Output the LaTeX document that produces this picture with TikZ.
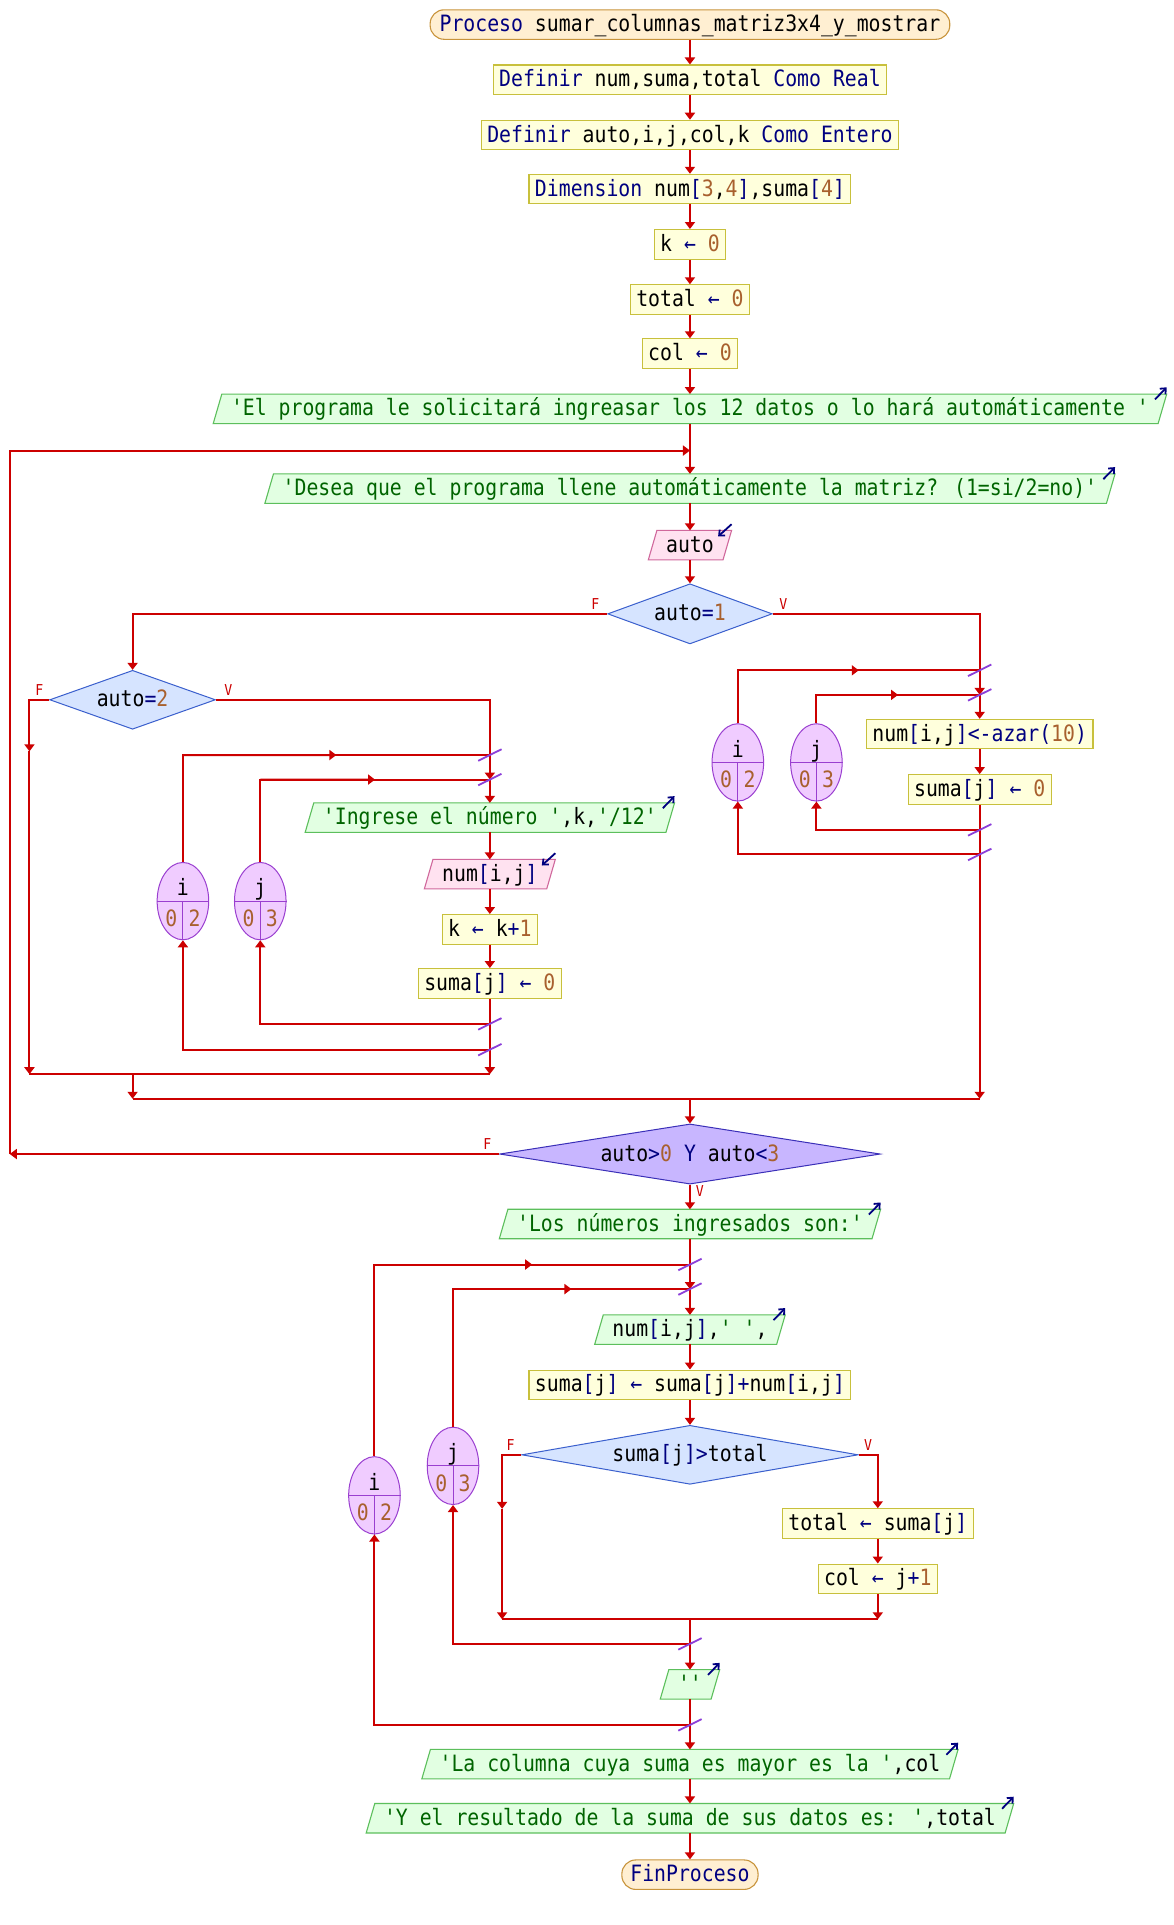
\documentclass[tikz,border=0pt]{standalone}
\usepackage{fontspec}
\usepackage{graphicx}
\newfontfamily\pse[FakeStretch=0.88,Ligatures=TeXOff]{DejaVu Sans Mono}
\usetikzlibrary{shapes.geometric,arrows.meta,calc}
\pgfdeclarelayer{paper}
\pgfdeclarelayer{bg}
\pgfsetlayers{paper,bg,main}

\definecolor{wire}{HTML}{CC0000}
\definecolor{cut}{HTML}{8B3FD9}
\definecolor{kwc}{HTML}{000080}
\definecolor{numc}{HTML}{A8602E}
\definecolor{strc}{HTML}{006400}
\definecolor{procf}{HTML}{FFEFD2}
\definecolor{procd}{HTML}{C8943C}
\definecolor{asgf}{HTML}{FFFFDC}
\definecolor{asgd}{HTML}{C8C03C}
\definecolor{outf}{HTML}{E2FFE2}
\definecolor{outd}{HTML}{5CBF5C}
\definecolor{inf}{HTML}{FFE2F0}
\definecolor{ind}{HTML}{D0689C}
\definecolor{decf}{HTML}{D6E4FF}
\definecolor{decd}{HTML}{3A5FCD}
\definecolor{whf}{HTML}{C8B6FF}
\definecolor{whd}{HTML}{3A2FB8}
\definecolor{ellf}{HTML}{F0CCFF}
\definecolor{elld}{HTML}{9A3FD0}
\definecolor{marknavy}{HTML}{000080}

% syntax colouring
\newcommand\kwd[1]{\textcolor{kwc}{#1}}
\newcommand\nmb[1]{\textcolor{numc}{#1}}
\newcommand\strg[1]{\textcolor{strc}{#1}}
\newcommand\asn{\kwd{\makebox[\fontcharwd\font`a][c]{←}}}

\tikzset{
  pse/.style={font=\pse\fontsize{22.5}{27}\selectfont, text height=18pt, text depth=4pt,
              inner ysep=0pt, minimum height=29.5pt},
  asgbox/.style={pse, rectangle, draw=asgd, fill=asgf, line width=1.1pt, inner xsep=6pt},
  procbox/.style={pse, rectangle, rounded corners=14pt, draw=procd, fill=procf,
                  line width=1.1pt, inner xsep=9.5pt},
  iobox/.style={pse, rectangle, inner xsep=13.5pt, outer sep=0pt},
  decbox/.style={pse, diamond, draw=decd, fill=decf, line width=1pt, inner sep=0pt},
  whbox/.style={decbox, draw=whd, fill=whf},
  conn/.style={draw=wire, line width=2pt},
  arr/.style={conn, -{Triangle[length=7pt,width=10pt]}},
  cutmark/.style={draw=cut, line width=1.8pt},
  tag/.style={text=wire, font=\pse\fontsize{15}{16}\selectfont, inner sep=0pt},
  ellnode/.style={ellipse, draw=elld, fill=ellf, line width=1pt,
                  minimum width=42*1.2277pt, minimum height=63*1.2277pt, inner sep=0pt},
  elltxt/.style={font=\pse\fontsize{22.5}{27}\selectfont, inner sep=0pt, anchor=base},
  iomark/.style={draw=marknavy, line width=1.8pt, -{Straight Barb[length=4.5pt,width=8pt]}},
}

% parallelogram behind an input/output node
\newcommand\paral[3]{%
  \begin{pgfonlayer}{bg}
    \path[fill=#2,draw=#3,line width=1.1pt]
      ($(#1.south west)+(-3.5,0)$) -- ($(#1.south east)+(-3.5,0)$) --
      ($(#1.north east)+(3.5,0)$) -- ($(#1.north west)+(3.5,0)$) -- cycle;
  \end{pgfonlayer}}
\newcommand\outmark[1]{\draw[iomark] ($(#1.north east)+(-6,4.3)$) -- ($(#1.north east)+(3.5,-5.5)$);}
\newcommand\inmark[1]{\draw[iomark] ($(#1.north east)+(3.5,-5)$) -- ($(#1.north east)+(-7.5,5)$);}
\newcommand\outnode[3]{\node[iobox] (#1) at (#2) {#3}; \paral{#1}{outf}{outd}\outmark{#1}}
\newcommand\innode[3]{\node[iobox] (#1) at (#2) {#3}; \paral{#1}{inf}{ind}\inmark{#1}}
% decision diamond: style, name, x, y, width, height, aspect (the node text follows)
\newcommand\decnode[7]{%
  \node[#1, aspect=#7, minimum width=#5*1.2277pt, minimum height=#6*1.2277pt] (#2) at (#3,#4)}
% loop counter ellipse: name, x, y, variable, from, to
\newcommand\loopvar[6]{%
  \node[ellnode] (#1) at (#2,#3) {};
  \draw[elld, line width=1pt] (#1.west) -- (#1.east) (#1.center) -- (#1.south);
  \node[elltxt] at (#2,#3-4.3) {#4};
  \node[elltxt] at (#2-9.5,#3+20.6) {\nmb{#5}};
  \node[elltxt] at (#2+9.5,#3+20.6) {\nmb{#6}};}
\newcommand\looptop[2]{%
  \coordinate (#1top) at (#1.north |- #2);
  \draw[conn] (#1.north) -- (#1top) -- (#2);
  \draw[arr] (#1top) -- ($(#1top)!0.5!(#2)$);}
\newcommand\loopret[2]{\draw[arr] (#1) -| (#2.south);}
\newcommand\cutat[1]{\draw[cutmark] ($(#1)+(-9.5,4.7)$) -- ($(#1)+(9.5,-4.7)$);}

\begin{document}
\begin{tikzpicture}[x=1.2277pt, y=-1.2277pt]
\begin{pgfonlayer}{paper}
\fill[white] (0,0) rectangle (956,1568);
\end{pgfonlayer}
\useasboundingbox (0,0) rectangle (956,1568);

% ---- declarations
\node[procbox] (p0) at (562,20) {\kwd{Proceso} sumar\_columnas\_matriz3x4\_y\_mostrar};
\node[asgbox] (a1) at (562,65) {\kwd{Definir} num,suma,total \kwd{Como Real}};
\node[asgbox] (a2) at (562,110) {\kwd{Definir} auto,i,j,col,k \kwd{Como Entero}};
\node[asgbox] (a3) at (562,154) {\kwd{Dimension} num\kwd{[}\nmb{3},\nmb{4}\kwd{]},suma\kwd{[}\nmb{4}\kwd{]}};
\node[asgbox] (a4) at (562,199) {k \asn{} \nmb{0}};
\node[asgbox] (a5) at (562,244) {total \asn{} \nmb{0}};
\node[asgbox] (a6) at (562,288) {col \asn{} \nmb{0}};
\outnode{o1}{562,333}{\strg{'El programa le solicitará ingreasar los 12 datos o lo hará automáticamente '}}
\outnode{o2}{562,398}{\strg{'Desea que el programa llene automáticamente la matriz? (1=si/2=no)'}}
\innode{in1}{562,444}{auto}
\decnode{decbox}{d1}{562}{500}{134}{49}{2.735} {auto\kwd{=}\nmb{1}};

% ---- automatic filling
\loopvar{ri}{601}{621}{i}{0}{2}
\loopvar{rj}{665}{621}{j}{0}{3}
\node[asgbox] (a9) at (798,598) {num\kwd{[}i,j\kwd{]<-azar(}\nmb{10}\kwd{)}};
\node[asgbox] (a10) at (798,643) {suma\kwd{[}j\kwd{]} \asn{} \nmb{0}};

% ---- manual filling
\decnode{decbox}{d2}{108}{570}{135}{48}{2.8125} {auto\kwd{=}\nmb{2}};
\loopvar{li}{149}{734}{i}{0}{2}
\loopvar{lj}{212}{734}{j}{0}{3}
\outnode{o3}{399,666}{\strg{'Ingrese el número '},k,\strg{'/12'}}
\innode{in2}{399,712}{num\kwd{[}i,j\kwd{]}}
\node[asgbox] (a7) at (399,757) {k \asn{} k\kwd{+}\nmb{1}};
\node[asgbox] (a8) at (399,801) {suma\kwd{[}j\kwd{]} \asn{} \nmb{0}};

% ---- repeat condition
\decnode{whbox}{d3}{562}{940}{310}{49}{6.327} {auto\kwd{>}\nmb{0} \kwd{Y} auto\kwd{<}\nmb{3}};

% ---- listing and column sums
\outnode{o4}{562,997}{\strg{'Los números ingresados son:'}}
\loopvar{bi}{305}{1218}{i}{0}{2}
\loopvar{bj}{369}{1194}{j}{0}{3}
\outnode{o5}{562,1083}{num\kwd{[}i,j\kwd{]},\strg{' '},}
\node[asgbox] (a11) at (562,1128) {suma\kwd{[}j\kwd{]} \asn{} suma\kwd{[}j\kwd{]+}num\kwd{[}i,j\kwd{]}};
\decnode{decbox}{d4}{562}{1185}{274}{48}{5.708} {suma\kwd{[}j\kwd{]>}total};
\node[asgbox] (a12) at (715,1241) {total \asn{} suma\kwd{[}j\kwd{]}};
\node[asgbox] (a13) at (715,1286) {col \asn{} j\kwd{+}\nmb{1}};
\outnode{o6}{562,1372}{\strg{''}}
\outnode{o7}{562,1437}{\strg{'La columna cuya suma es mayor es la '},col}
\outnode{o8}{562,1481}{\strg{'Y el resultado de la suma de sus datos es: '},total}
\node[procbox, inner xsep=8.5pt] (p1) at (562,1527) {\kwd{FinProceso}};

% ---- junction points
\coordinate (Rti) at (798,546);  \coordinate (Rtj) at (798,566);
\coordinate (Rbj) at (798,676);  \coordinate (Rbi) at (798,696);
\coordinate (Rend) at (798,895);
\coordinate (Lti) at (399,615);  \coordinate (Ltj) at (399,635);
\coordinate (Lbj) at (399,834);  \coordinate (Lbi) at (399,855);
\coordinate (Lend) at (399,875);
\coordinate (Lf) at (24,612);    \coordinate (Lfend) at (24,875);
\coordinate (M1) at (108,875);   \coordinate (M1b) at (108,895);
\coordinate (M2) at (562,895);
\coordinate (Bti) at (562,1030); \coordinate (Btj) at (562,1050);
\coordinate (Bm) at (562,1319);
\coordinate (Bbj) at (562,1339); \coordinate (Bbi) at (562,1405);
\coordinate (Bf) at (409,1229);  \coordinate (Bfend) at (409,1319);
\coordinate (Bvend) at (715,1319);
\coordinate (W1) at (8,940);     \coordinate (W2) at (8,367);
\coordinate (W3) at (562,367);

% ---- connectors: header
\draw[arr] (p0.south) -- (a1.north);
\draw[arr] (a1.south) -- (a2.north);
\draw[arr] (a2.south) -- (a3.north);
\draw[arr] (a3.south) -- (a4.north);
\draw[arr] (a4.south) -- (a5.north);
\draw[arr] (a5.south) -- (a6.north);
\draw[arr] (a6.south) -- (o1.north);
\draw[arr] (o1.south) -- (o2.north);
\draw[arr] (o2.south) -- (in1.north);
\draw[arr] (in1.south) -- (d1.north);

% ---- auto=1 branch
\draw[arr] (d1.west) -| (d2.north);
\draw[conn] (d1.east) -| (Rti);
\draw[arr] (Rti) -- (Rtj);
\draw[arr] (Rtj) -- (a9.north);
\looptop{ri}{Rti}
\looptop{rj}{Rtj}
\draw[arr] (a9.south) -- (a10.north);
\draw[arr] (a10.south) -- (Rend);
\loopret{Rbj}{rj}
\loopret{Rbi}{ri}

% ---- auto=2 branch
\draw[arr] (d2.west) -| (Lf);
\draw[arr] (Lf) -- (Lfend);
\draw[conn] (d2.east) -| (Lti);
\draw[arr] (Lti) -- (Ltj);
\draw[arr] (Ltj) -- (o3.north);
\looptop{li}{Lti}
\looptop{lj}{Ltj}
\draw[arr] (o3.south) -- (in2.north);
\draw[arr] (in2.south) -- (a7.north);
\draw[arr] (a7.south) -- (a8.north);
\draw[arr] (a8.south) -- (Lend);
\loopret{Lbj}{lj}
\loopret{Lbi}{li}
\draw[conn] (Lfend) -- (Lend);
\draw[arr] (M1) -- (M1b);
\draw[conn] (M1b) -- (Rend);
\draw[arr] (M2) -- (d3.north);

% ---- repeat loop back
\draw[arr] (d3.west) -- (W1);
\draw[arr] (W1) -- (W2) -- (W3);

% ---- listing
\draw[arr] (d3.south) -- (o4.north);
\draw[conn] (o4.south) -- (Bti);
\draw[arr] (Bti) -- (Btj);
\draw[arr] (Btj) -- (o5.north);
\looptop{bi}{Bti}
\looptop{bj}{Btj}
\draw[arr] (o5.south) -- (a11.north);
\draw[arr] (a11.south) -- (d4.north);
\draw[arr] (d4.west) -| (Bf);
\draw[arr] (Bf) -- (Bfend);
\draw[arr] (d4.east) -| (a12.north);
\draw[arr] (a12.south) -- (a13.north);
\draw[arr] (a13.south) -- (Bvend);
\draw[conn] (Bfend) -- (Bvend);
\draw[arr] (Bm) -- (o6.north);
\loopret{Bbj}{bj}
\draw[arr] (o6.south) -- (o7.north);
\loopret{Bbi}{bi}
\draw[arr] (o7.south) -- (o8.north);
\draw[arr] (o8.south) -- (p1.north);

% ---- loop cut marks
\foreach \c in {Rti,Rtj,Rbj,Rbi,Lti,Ltj,Lbj,Lbi,Bti,Btj,Bbj,Bbi} {\cutat{\c}}

% ---- branch tags
\node[tag] (t1f) at (485,492) {F};
\node[tag] (t1v) at (638,492) {V};
\node[tag] (t2f) at (32,562) {F};
\node[tag] (t2v) at (186,562) {V};
\node[tag] (t3f) at (397,932) {F};
\node[tag] (t3v) at (570,970) {V};
\node[tag] (t4f) at (416,1177) {F};
\node[tag] (t4v) at (707,1177) {V};
\end{tikzpicture}
\end{document}
